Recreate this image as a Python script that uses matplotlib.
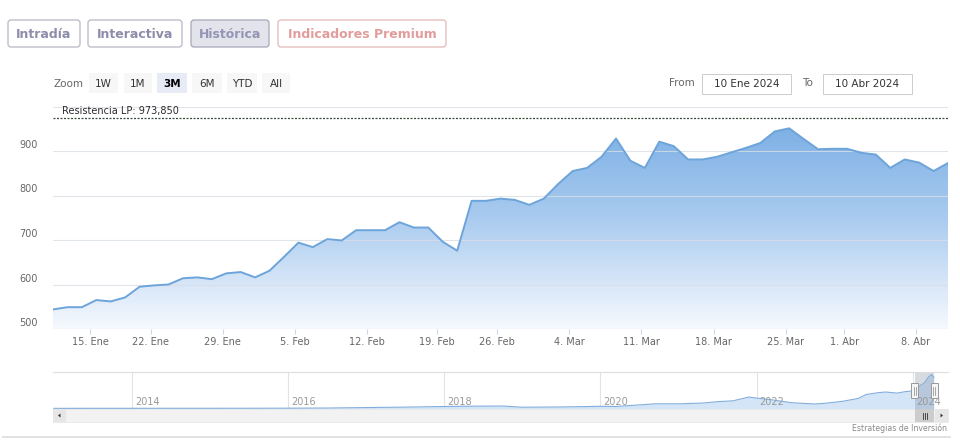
import numpy as np
import pandas as pd
import matplotlib
matplotlib.use("Agg")
import matplotlib.pyplot as plt
from matplotlib.patches import FancyBboxPatch, Rectangle, Polygon
from matplotlib.colors import LinearSegmentedColormap

# ---------------- data ----------------
holidays = ["2024-01-15", "2024-02-19", "2024-03-29"]
dates = pd.bdate_range("2024-01-10", "2024-04-10")
dates = dates[~dates.isin(pd.to_datetime(holidays))]

prices = [544, 549, 549, 565, 562, 571, 595, 598, 600, 614,
          616, 612, 625, 628, 616, 631, 662, 694, 684, 702,
          699, 722, 722, 722, 740, 728, 728, 696, 676, 788,
          788, 793, 790, 779, 793, 826, 855, 862, 887, 928,
          878, 862, 921, 911, 881, 881, 887, 897, 907, 918,
          944, 951, 927, 904, 905, 905, 896, 892, 862, 881,
          874, 855, 873]

tick_dates = ["2024-01-15", "2024-01-22", "2024-01-29", "2024-02-05", "2024-02-12",
              "2024-02-19", "2024-02-26", "2024-03-04", "2024-03-11", "2024-03-18",
              "2024-03-25", "2024-04-01", "2024-04-08"]
tick_labels = ["15. Ene", "22. Ene", "29. Ene", "5. Feb", "12. Feb", "19. Feb",
               "26. Feb", "4. Mar", "11. Mar", "18. Mar", "25. Mar", "1. Abr", "8. Abr"]
y_ticks = [500, 600, 700, 800, 900]

resistance = 973.85
resistance_label = "Resistencia LP: 973,850"

nav_years = [2013.0, 2013.5, 2014.0, 2014.5, 2015.0, 2015.5, 2016.0, 2016.5, 2017.0,
             2017.5, 2018.0, 2018.4, 2018.75, 2019.0, 2019.5, 2020.0, 2020.2, 2020.5,
             2020.7, 2021.0, 2021.3, 2021.5, 2021.7, 2021.9, 2022.0, 2022.2, 2022.45,
             2022.75, 2022.9, 2023.1, 2023.3, 2023.4, 2023.55, 2023.65, 2023.8, 2023.9,
             2024.0, 2024.1, 2024.15, 2024.2, 2024.24, 2024.27]
nav_values = [3, 4, 4, 5, 5, 6, 8, 12, 25, 38, 55, 65, 68, 35, 42, 60, 55, 100, 130,
              130, 150, 190, 215, 320, 290, 240, 160, 125, 150, 200, 280, 390, 440,
              460, 430, 470, 490, 650, 720, 880, 950, 870]
nav_year_ticks = [2014, 2016, 2018, 2020, 2022, 2024]

top_buttons = ["Intradía", "Interactiva", "Histórica", "Indicadores Premium"]
zoom_buttons = ["1W", "1M", "3M", "6M", "YTD", "All"]
selected_zoom = "3M"
from_text = "10 Ene 2024"
to_text = "10 Abr 2024"
credit = "Estrategias de Inversión"

# ---------------- figure ----------------
W, H = 960, 443
fig = plt.figure(figsize=(W / 100, H / 100), dpi=100)
fig.patch.set_facecolor("white")
PT = 0.72  # points per pixel


def fax(x0, y0, x1, y1):
    return [x0 / W, (H - y1) / H, (x1 - x0) / W, (y1 - y0) / H]


# ---------------- main chart ----------------
ax = fig.add_axes(fax(53, 106.5, 948, 329))
x = np.arange(len(prices))
ax.set_xlim(0, len(prices) - 1)
ax.set_ylim(500, 1000)
for s in ax.spines.values():
    s.set_visible(False)

verts = [(0, 500)] + list(zip(x, prices)) + [(x[-1], 500)]
poly = Polygon(verts, closed=True, fc="none", ec="none")
ax.add_patch(poly)
cmap = LinearSegmentedColormap.from_list("g", ["#f6f9fe", "#a9cbef", "#74aae3"])
grad = np.linspace(0, 1, 256).reshape(-1, 1)
im = ax.imshow(grad, cmap=cmap, extent=[0, x[-1], 500, 1000], origin="lower",
               aspect="auto", zorder=1)
im.set_clip_path(poly)
ax.plot(x, prices, color="#6da4d9", lw=1.4, zorder=3, solid_joinstyle="round")

for v in [500, 600, 700, 800, 900, 1000]:
    ax.axhline(v, color="#d9dee6", lw=0.8, alpha=0.8, zorder=2)

ax.axhline(resistance, color="#3d4a3d", lw=0.9, ls=(0, (1.6, 1.2)), zorder=4)

# ordinal tick positions (points stamped late in the trading day)
pt_times = (dates + pd.Timedelta(hours=17.5)).values.astype("datetime64[m]").astype(float)
tk_times = pd.to_datetime(tick_dates).values.astype("datetime64[m]").astype(float)
tick_pos = np.interp(tk_times, pt_times, x)
ax.set_xticks(tick_pos)
ax.set_xticklabels(tick_labels)
ax.tick_params(axis="x", direction="out", length=5 * PT, width=0.8, color="#ccd6eb",
               labelsize=7, labelcolor="#666666", pad=3 * PT)
ax.set_yticks([])
for v in y_ticks:
    ax.annotate(str(v), xy=(0, v), xycoords=("axes fraction", "data"),
                xytext=(-15 * PT, 6 * PT), textcoords="offset points",
                ha="right", va="center", fontsize=7, color="#666666")

# ---------------- navigator ----------------
nav = fig.add_axes(fax(53, 372, 948, 409))
nav.set_xlim(2012.99, 2024.45)
nav.set_ylim(-15, 1020)
for k, s in nav.spines.items():
    s.set_visible(k == "top")
nav.spines["top"].set_color("#dddddd")
nav.spines["top"].set_linewidth(0.8)
nav.set_xticks([])
nav.set_yticks([])
nav.fill_between(nav_years, nav_values, -15, color="#d3e5f7", lw=0, zorder=1)
nav.plot(nav_years, nav_values, color="#82addb", lw=0.8, zorder=3)
for yr in nav_year_ticks:
    nav.axvline(yr, color="#e3e3e3", lw=0.8, zorder=0.5)
    nav.annotate(str(yr), xy=(yr, 0.19), xycoords=("data", "axes fraction"),
                 xytext=(3 * PT, 0), textcoords="offset points", ha="left",
                 va="center", fontsize=7, color="#999999", zorder=5)


def dec_year(d):
    return d.year + (d.dayofyear - 0.5) / 366.0


sel0, sel1 = dec_year(dates[0]), dec_year(dates[-1])
nav.axvspan(sel0, sel1, color="#6f7f99", alpha=0.28, lw=0, zorder=2)


def nav_px(yr):
    return 53 + (yr - 2012.99) / (2024.45 - 2012.99) * 895


# ---------------- overlay (UI chrome) ----------------
ov = fig.add_axes([0, 0, 1, 1], zorder=10)
ov.set_xlim(0, W)
ov.set_ylim(H, 0)
ov.axis("off")
ov.patch.set_alpha(0)


def box(x0, y0, x1, y1, fc, ec, r=3, lw=1.0):
    ov.add_patch(FancyBboxPatch((x0, y0), x1 - x0, y1 - y0,
                                boxstyle=f"round,pad=0,rounding_size={r}",
                                fc=fc, ec=ec, lw=lw * PT))


# top buttons
tb_geo = [(8, 80), (88, 182), (191, 269), (278, 446)]
for lab, (x0, x1) in zip(top_buttons, tb_geo):
    if lab == "Histórica":
        fc, ec, tc = "#e3e3eb", "#a9a9bb", "#9494b4"
    elif lab.startswith("Indicadores"):
        fc, ec, tc = "white", "#e6b9b9", "#e39c9c"
    else:
        fc, ec, tc = "white", "#b9b9c6", "#8d8dab"
    box(x0, 20, x1, 47, fc, ec, r=3, lw=1.3)
    ov.text((x0 + x1) / 2, 34, lab, ha="center", va="center", fontsize=9,
            fontweight="bold", color=tc)

# zoom row
ov.text(53, 84, "Zoom", ha="left", va="center", fontsize=7.5, color="#666666")
zb_geo = [(89, 118), (124, 152), (157, 187), (192, 222), (227, 257), (262, 290)]
for lab, (x0, x1) in zip(zoom_buttons, zb_geo):
    sel = lab == selected_zoom
    ov.add_patch(Rectangle((x0, 73), x1 - x0, 20, fc="#e6ebf5" if sel else "#f7f7f7",
                           ec="none"))
    ov.text((x0 + x1) / 2, 83.5, lab, ha="center", va="center", fontsize=7.5,
            color="black" if sel else "#333333", fontweight="bold" if sel else "normal")

ov.text(695, 83, "From", ha="right", va="center", fontsize=7.5, color="#666666")
ov.add_patch(Rectangle((702, 73.5), 89, 20, fc="white", ec="#cccccc", lw=0.7))
ov.text(746.5, 83.5, from_text, ha="center", va="center", fontsize=7.5, color="#333333")
ov.text(802, 83, "To", ha="left", va="center", fontsize=7.5, color="#666666")
ov.add_patch(Rectangle((823, 73.5), 89, 20, fc="white", ec="#cccccc", lw=0.7))
ov.text(867.5, 83.5, to_text, ha="center", va="center", fontsize=7.5, color="#333333")

# resistance label
ov.text(62, 110.5, resistance_label, ha="left", va="center", fontsize=7, color="#2b2b2b")

# navigator handles
for xp in (nav_px(sel0), nav_px(sel1)):
    ov.add_patch(Rectangle((xp - 3.5, 383), 7, 15, fc="#f5f5f5", ec="#999999", lw=0.7))
    ov.plot([xp - 1, xp - 1], [386.5, 394.5], color="#999999", lw=0.6)
    ov.plot([xp + 1, xp + 1], [386.5, 394.5], color="#999999", lw=0.6)

# scrollbar
ov.add_patch(Rectangle((53, 409), 895, 13, fc="#f2f2f2", ec="#e6e6e6", lw=0.5))
ov.add_patch(Rectangle((53, 409), 13, 13, fc="#e6e6e6", ec="none"))
ov.add_patch(Rectangle((935, 409), 13, 13, fc="#e6e6e6", ec="none"))
ov.add_patch(Polygon([(58, 415.5), (60.5, 413.5), (60.5, 417.5)], closed=True,
                     fc="#333333", ec="none"))
ov.add_patch(Polygon([(943, 415.5), (940.5, 413.5), (940.5, 417.5)], closed=True,
                     fc="#333333", ec="none"))
t0, t1 = nav_px(sel0), min(nav_px(sel1), 935)
ov.add_patch(Rectangle((t0, 409), t1 - t0, 13, fc="#cccccc", ec="none"))
cx = (t0 + t1) / 2
for dx in (-2, 0, 2):
    ov.plot([cx + dx, cx + dx], [412.5, 418.5], color="#333333", lw=0.6)

ov.text(947, 428.5, credit, ha="right", va="center", fontsize=5.6, color="#8a8a8a")
ov.plot([3, 950], [436.5, 436.5], color="#e2e2e2", lw=1.4)

fig.savefig("out.png", dpi=100, facecolor="white")
